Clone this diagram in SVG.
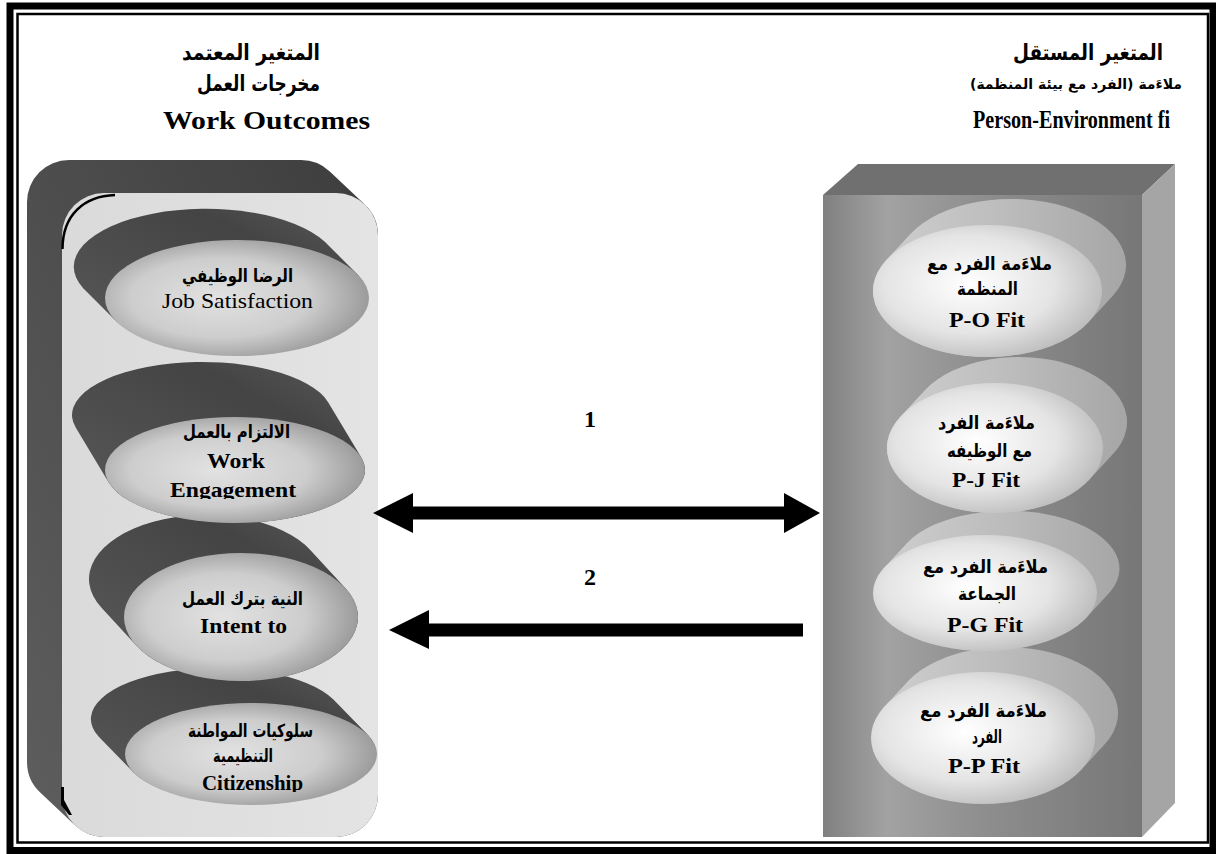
<svg xmlns="http://www.w3.org/2000/svg" width="1216" height="854" viewBox="0 0 1216 854">
<defs>
<style>
.ar{font-family:"DejaVu Sans","Noto Sans",sans-serif;font-weight:bold;direction:rtl;text-anchor:middle;fill:#000}
.en{font-family:"Liberation Serif","Times New Roman",serif;font-weight:bold;text-anchor:middle;fill:#000}
.reg{font-weight:normal}
.lback{fill:url(#gLBack)}
.lfront{fill:url(#gLFront)}
.rback{fill:url(#gRBack)}
.rfront{fill:url(#gRFront)}
.arrow{fill:#000}
</style>
<linearGradient id="gDark" x1="1" y1="0" x2="0" y2="1"><stop offset="0" stop-color="#3d3d3d"/><stop offset="1" stop-color="#5e5e5e"/></linearGradient>
<linearGradient id="gPanel" x1="0" y1="0" x2="1" y2="0"><stop offset="0" stop-color="#dadada"/><stop offset="1" stop-color="#e4e4e4"/></linearGradient>
<linearGradient id="gLBack" x1="0" y1="1" x2="1" y2="0"><stop offset="0" stop-color="#5a5a5a"/><stop offset="0.7" stop-color="#444"/><stop offset="1" stop-color="#5a5a5a"/></linearGradient>
<radialGradient id="gLFront" cx="0.45" cy="0.5" r="0.62" fx="0.42" fy="0.5"><stop offset="0" stop-color="#e2e2e2"/><stop offset="0.55" stop-color="#cdcdcd"/><stop offset="1" stop-color="#8c8c8c"/></radialGradient>
<linearGradient id="gRBack" x1="0" y1="0" x2="1" y2="0"><stop offset="0" stop-color="#cfcfcf"/><stop offset="0.5" stop-color="#bdbdbd"/><stop offset="1" stop-color="#a6a6a6"/></linearGradient>
<radialGradient id="gRFront" cx="0.42" cy="0.45" r="0.62"><stop offset="0" stop-color="#ffffff"/><stop offset="0.6" stop-color="#e4e4e4"/><stop offset="1" stop-color="#b9b9b9"/></radialGradient>
<linearGradient id="gBox" x1="0" y1="0" x2="1" y2="0"><stop offset="0" stop-color="#808080"/><stop offset="0.2" stop-color="#a2a2a2"/><stop offset="0.5" stop-color="#8e8e8e"/><stop offset="1" stop-color="#777"/></linearGradient>
<clipPath id="clipEng"><rect x="60" y="380" width="320" height="119"/></clipPath>
<clipPath id="clipCit"><rect x="60" y="690" width="320" height="102"/></clipPath>
</defs>
<rect x="0" y="0" width="1216" height="854" fill="#fff"/>
<g id="frame" fill="none" stroke="#000">
<rect x="10" y="6" width="1203" height="844.5" stroke-width="7"/>
<rect x="17.5" y="14" width="1190.5" height="828.5" stroke-width="2.5"/>
</g>
<g id="header-left">
<text class="ar" x="251" y="60" font-size="22" textLength="138" lengthAdjust="spacingAndGlyphs">المتغير المعتمد</text>
<text class="ar" x="258.5" y="91" font-size="22" textLength="123" lengthAdjust="spacingAndGlyphs">مخرجات العمل</text>
<text class="en" x="266.5" y="129" font-size="26" textLength="207" lengthAdjust="spacingAndGlyphs">Work Outcomes</text>
</g>
<g id="header-right">
<text class="ar" x="1088" y="60" font-size="22" textLength="150" lengthAdjust="spacingAndGlyphs">المتغير المستقل</text>
<text class="ar" x="1076" y="89" font-size="14">ملاءَمة (الفرد مع بيئة المنظمة)</text>
<text class="en" x="1071.5" y="128" font-size="25" textLength="197" lengthAdjust="spacingAndGlyphs">Person-Environment fi</text>
</g>
<g id="panel-left">
<path fill="url(#gDark)" d="M27,202 A42,42 0 0 1 69,160 L301,160 A42,42 0 0 1 329.8,171.4 L364.8,204.4 A42,42 0 0 1 378,235 L378,795 A42,42 0 0 1 336,837 L104,837 A42,42 0 0 1 75.2,825.6 L40.2,792.6 A42,42 0 0 1 27,762 Z"/>
<rect x="62" y="193" width="316" height="644" rx="42" fill="url(#gPanel)"/>
<path d="M62.5,249 C62.5,215 84,196 115,195" fill="none" stroke="#000" stroke-width="2.5"/>
<polygon points="61,787 64,787 64,800 72,815 69,815 61,805" fill="#000"/>
</g>
<g id="node-citizenship">
<path class="lback" d="M368.2,735.3 L333.2,699.3 A126,51 0 0 0 98.8,736.7 L133.8,772.7 A126,51 0 0 0 368.2,735.3 Z"/>
<ellipse class="lfront" cx="251" cy="754" rx="126" ry="51"/>
<text class="ar" x="250.5" y="737" font-size="18" textLength="125" lengthAdjust="spacingAndGlyphs">سلوكيات المواطنة</text>
<text class="ar" x="243" y="762" font-size="18" textLength="60" lengthAdjust="spacingAndGlyphs">التنظيمية</text>
<text class="en" x="252.5" y="790" font-size="21" textLength="101" lengthAdjust="spacingAndGlyphs" clip-path="url(#clipCit)">Citizenship</text>
</g>
<g id="node-intent">
<path class="lback" d="M345.5,588.2 L310.5,550.2 A117,64 0 0 0 101.5,607.8 L136.5,645.8 A117,64 0 0 0 345.5,588.2 Z"/>
<ellipse class="lfront" cx="241" cy="617" rx="117" ry="64"/>
<text class="ar" x="242.5" y="605" font-size="18" textLength="121" lengthAdjust="spacingAndGlyphs">النية بترك العمل</text>
<text class="en" x="243.5" y="633" font-size="22" textLength="87" lengthAdjust="spacingAndGlyphs">Intent to</text>
</g>
<g id="node-engagement">
<path class="lback" d="M361.3,457.4 L328.3,402.4 A130,53 0 0 0 75.7,427.6 L108.7,482.6 A130,53 0 0 0 361.3,457.4 Z"/>
<ellipse class="lfront" cx="235" cy="470" rx="130" ry="53"/>
<text class="ar" x="236.5" y="438" font-size="18" textLength="107" lengthAdjust="spacingAndGlyphs">الالتزام بالعمل</text>
<text class="en" x="236" y="468" font-size="22" textLength="58" lengthAdjust="spacingAndGlyphs">Work</text>
<text class="en" x="233" y="497" font-size="22" textLength="126" lengthAdjust="spacingAndGlyphs" clip-path="url(#clipEng)">Engagement</text>
</g>
<g id="node-job-satisfaction">
<path class="lback" d="M357.8,274.7 L324.8,241.7 A132,58 0 0 0 83.2,288.3 L116.2,321.3 A132,58 0 0 0 357.8,274.7 Z"/>
<ellipse class="lfront" cx="237" cy="298" rx="132" ry="58"/>
<text class="ar" x="237.5" y="282" font-size="18" textLength="111" lengthAdjust="spacingAndGlyphs">الرضا الوظيفي</text>
<text class="en reg" x="237.5" y="308" font-size="22" textLength="151" lengthAdjust="spacingAndGlyphs">Job Satisfaction</text>
</g>
<g id="panel-right">
<polygon points="823,195 858,164 1175,164 1142,195" fill="#707070"/>
<polygon points="1142,195 1175,164 1175,803 1142,837" fill="#a5a5a5"/>
<rect x="823" y="195" width="319" height="642" fill="url(#gBox)"/>
</g>
<g id="node-pp">
<path class="rback" d="M1081.4,769.5 L1105.4,743.5 A112,66 0 0 0 908.6,680.5 L884.6,706.5 A112,66 0 0 0 1081.4,769.5 Z"/>
<ellipse class="rfront" cx="983" cy="738" rx="112" ry="66"/>
<text class="ar" x="983.5" y="717" font-size="18" textLength="127" lengthAdjust="spacingAndGlyphs">ملاءَمة الفرد مع</text>
<text class="ar" x="987" y="743" font-size="18" textLength="30" lengthAdjust="spacingAndGlyphs">الفرد</text>
<text class="en" x="984" y="773" font-size="22" textLength="72" lengthAdjust="spacingAndGlyphs">P-P Fit</text>
</g>
<g id="node-pg">
<path class="rback" d="M1086,618 L1110,592 A112,58 0 0 0 908,542 L884,568 A112,58 0 0 0 1086,618 Z"/>
<ellipse class="rfront" cx="985" cy="593" rx="112" ry="58"/>
<text class="ar" x="985.5" y="573" font-size="18" textLength="125" lengthAdjust="spacingAndGlyphs">ملاءَمة الفرد مع</text>
<text class="ar" x="987" y="600" font-size="18" textLength="58" lengthAdjust="spacingAndGlyphs">الجماعة</text>
<text class="en" x="985" y="632" font-size="22" textLength="76" lengthAdjust="spacingAndGlyphs">P-G Fit</text>
</g>
<g id="node-pj">
<path class="rback" d="M1089.4,479.6 L1113.4,453.6 A108,65 0 0 0 924.6,390.4 L900.6,416.4 A108,65 0 0 0 1089.4,479.6 Z"/>
<ellipse class="rfront" cx="995" cy="448" rx="108" ry="65"/>
<text class="ar" x="986.5" y="429" font-size="18" textLength="97" lengthAdjust="spacingAndGlyphs">ملاءَمة الفرد</text>
<text class="ar" x="989.5" y="457" font-size="18" textLength="85" lengthAdjust="spacingAndGlyphs">مع الوظيفه</text>
<text class="en" x="986" y="487" font-size="22" textLength="68" lengthAdjust="spacingAndGlyphs">P-J Fit</text>
</g>
<g id="node-po">
<path class="rback" d="M1088.6,322 L1112.6,296 A114.5,66 0 0 0 910.4,234 L886.4,260 A114.5,66 0 0 0 1088.6,322 Z"/>
<ellipse class="rfront" cx="987.5" cy="291" rx="114.5" ry="66"/>
<text class="ar" x="989.5" y="270" font-size="18" textLength="125" lengthAdjust="spacingAndGlyphs">ملاءَمة الفرد مع</text>
<text class="ar" x="987.5" y="295" font-size="18" textLength="61" lengthAdjust="spacingAndGlyphs">المنظمة</text>
<text class="en" x="987" y="327" font-size="22" textLength="76" lengthAdjust="spacingAndGlyphs">P-O Fit</text>
</g>
<g id="connectors">
<polygon class="arrow" points="373,513 413,493 413,506.5 784,506.5 784,493 820,513 784,533 784,519.5 413,519.5 413,533"/>
<polygon class="arrow" points="389,630 429,610 429,623.5 803,623.5 803,636.5 429,636.5 429,649"/>
<text class="en" x="590" y="427" font-size="24">1</text>
<text class="en" x="590" y="585" font-size="24">2</text>
</g>
</svg>
